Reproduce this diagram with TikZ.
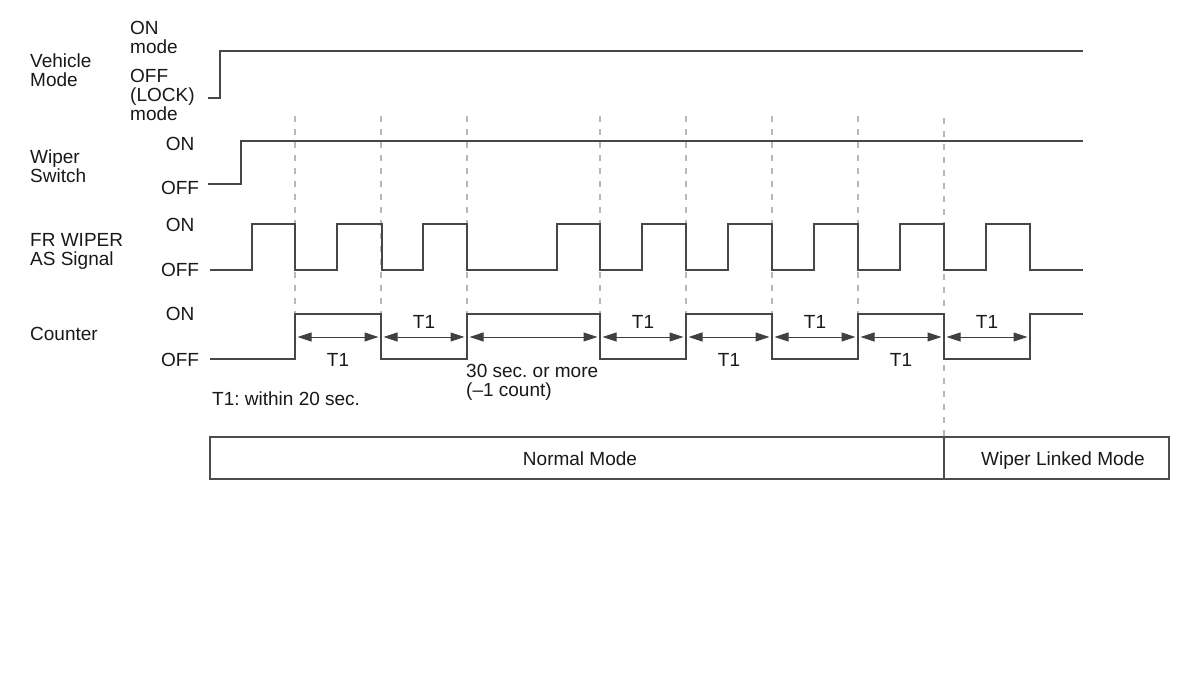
\documentclass[tikz,border=0pt]{standalone}
\usepackage{fontspec}
\setmainfont{Liberation Sans}
\usetikzlibrary{arrows.meta}
\frenchspacing
\begin{document}
\begin{tikzpicture}[x=1pt,y=-1pt,
  font=\fontsize{19}{19}\selectfont,
  sig/.style={line width=2.6pt, draw=black!72, line join=miter},
  guide/.style={draw=black!28, line width=1.3pt, dash pattern=on 6pt off 7pt},
  dim/.style={draw=black!75, line width=1pt, {Triangle[length=14pt,width=9pt]}-{Triangle[length=14pt,width=9pt]}},
  lbl/.style={anchor=base west, inner sep=0pt, align=left, text=black!90},
  st/.style={anchor=base, inner sep=0pt, text=black!90},
  modebox/.style={draw=black!70, line width=1.8pt}]
\fill[white] (0,0) rectangle (1200,689);
\useasboundingbox (0,0) rectangle (1200,689);

% guide lines
\foreach \gx in {295,381,467,600,686,772,858}
  \draw[guide] (\gx,116) -- (\gx,314);
\draw[guide] (944,118) -- (944,437);

% vehicle mode
\draw[sig] (208,98) -- (220,98) -- (220,51) -- (1083,51);
% wiper switch
\draw[sig] (208,184) -- (241,184) -- (241,141) -- (1083,141);
% FR wiper AS signal
\draw[sig] (210,270) -| (252,224) -| (295,270) -| (337,224) -| (382,270) -| (423,224)
  -| (467,270) -| (557,224) -| (600,270) -| (642,224) -| (686,270) -| (728,224)
  -| (772,270) -| (814,224) -| (858,270) -| (900,224) -| (944,270) -| (986,224)
  -| (1030,270) -- (1083,270);
% counter
\draw[sig] (210,359) -| (295,314) -| (381,359) -| (467,314) -| (600,359) -| (686,314)
  -| (772,359) -| (858,314) -| (944,359) -| (1030,314) -- (1083,314);

% dimension arrows
\foreach \a/\b in {295/381,381/467,467/600,600/686,686/772,772/858,858/944,944/1030}
  \draw[dim] (\a+2.5,337) -- (\b-2.5,337);

% T1 labels
\foreach \tx in {424,643,815,987}
  \node[st] at (\tx,328) {T1};
\foreach \tx in {338,729,901}
  \node[st] at (\tx,366) {T1};

% left labels (multi-line nodes anchored at the baseline of their last line)
\node[lbl] (vm) at (30,86) {Vehicle\\Mode};
\node[lbl] (von) at (130,53) {ON\\mode};
\node[lbl] (voff) at (130,120) {OFF\\(LOCK)\\mode};
\node[lbl] (ws) at (30,182) {Wiper\\Switch};
\node[st] (won) at (180,150) {ON};
\node[st] (woff) at (180,194) {OFF};
\node[lbl] (fr) at (30,265) {FR WIPER\\AS Signal};
\node[st] (fon) at (180,231) {ON};
\node[st] (foff) at (180,276) {OFF};
\node[lbl] (cnt) at (30,340) {Counter};
\node[st] (con) at (180,320) {ON};
\node[st] (coff) at (180,366) {OFF};

\node[lbl] (note) at (212,405) {T1: within 20 sec.};
\node[lbl] (thirty) at (466,396) {30 sec. or more\\(–1 count)};

% mode bar
\draw[modebox] (210,437) rectangle (1169,479);
\draw[draw=black!70, line width=1.2pt] (944,437) -- (944,479);
\node[st] (normal) at (580,465) {Normal Mode};
\node[st] (linked) at (1063,465) {Wiper Linked Mode};
\end{tikzpicture}
\end{document}
